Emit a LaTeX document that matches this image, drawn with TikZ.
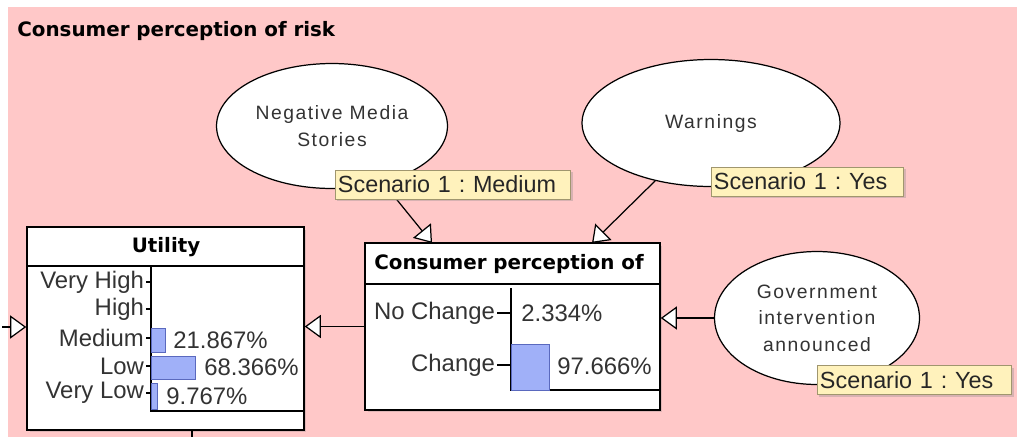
\documentclass[tikz,border=0pt]{standalone}
\usepackage{fontspec}
\setmainfont{Liberation Sans}
\newfontfamily\headfont{DejaVu Sans}
\newfontfamily\ellfont{Liberation Sans}[LetterSpace=8]
\usetikzlibrary{arrows.meta,shapes.geometric,shadows}

\definecolor{bgpink}{RGB}{255,200,200}
\definecolor{notefill}{RGB}{255,242,188}
\definecolor{notedraw}{RGB}{160,150,110}
\definecolor{barfill}{RGB}{160,176,248}
\definecolor{bardraw}{RGB}{90,105,190}

\tikzset{
	varnode/.style={draw, ellipse, fill=white, line width=0.7pt, inner sep=0pt, align=center,
		font=\ellfont\fontsize{11}{15}\selectfont, text=black!80},
	monitor/.style={draw, rectangle, fill=white, line width=0.9pt, inner sep=0pt,
		drop shadow={shadow xshift=0.05cm, shadow yshift=-0.05cm, opacity=0.25}},
	scen/.style={draw=notedraw, fill=notefill, anchor=west, inner xsep=1.5pt, inner ysep=0pt,
		minimum height=0.58cm, align=left, font=\frenchspacing\fontsize{13.3}{14}\selectfont, text=black!85,
		drop shadow={shadow xshift=0.04cm, shadow yshift=-0.04cm, opacity=0.3}},
	link/.style={line width=0.7pt, -{Triangle[fill=white, length=0.32cm, width=0.46cm]}},
	state/.style={anchor=east, inner sep=1pt, font=\fontsize{13.6}{14}\selectfont, text=black!80},
	pct/.style={anchor=west, inner sep=0pt, font=\fontsize{13.6}{14}\selectfont, text=black!80},
	heading/.style={font=\headfont\bfseries\fontsize{11.3}{13}\selectfont},
	bar/.style={draw=bardraw, fill=barfill, line width=0.5pt}
}

\begin{document}
\begin{tikzpicture}[x=0.02cm, y=-0.02cm]
	\useasboundingbox (0,0) rectangle (1017,437);
	\fill[bgpink] (8,7) rectangle (1017,437);
	\node[heading, anchor=base west, inner sep=0pt] (title) at (17,36) {Consumer perception of risk};

	% chance nodes
	\node[varnode, minimum width=4.62cm, minimum height=2.5cm] (media) at (332,126) {Negative Media\\Stories};
	\node[varnode, minimum width=5.16cm, minimum height=2.54cm] (warn) at (711,123) {Warnings};
	\node[varnode, minimum width=4.1cm, minimum height=2.66cm] (gov) at (817,318) {Government\\intervention\\announced};

	% monitor boxes
	\node[monitor, minimum width=5.54cm, minimum height=4.06cm] (util) at (165.5,328.5) {};
	\node[monitor, minimum width=5.9cm, minimum height=3.34cm] (cons) at (512.5,326.5) {};
	\node[heading] (utilhead) at (166,247) {Utility};
	\node[heading] (conshead) at (509,264) {Consumer perception of};
	\draw[line width=0.9pt] (27,266) -- (304,266);
	\draw[line width=0.9pt] (365,284) -- (660,284);

	% utility chart
	\draw[line width=0.8pt] (151,266) -- (151,411) -- (304,411);
	\foreach \lab/\yy [count=\i] in {Very High/282, High/309, Medium/338, Low/366, Very Low/393}
	{	\node[state] (ulab\i) at (146,\yy) {\lab};
		\draw[line width=0.6pt] (146,\yy) -- (151,\yy);
	}
	\foreach \xx/\ya/\yb/\val/\tx [count=\i] in {165/328/352/21.867/173, 195/356/379/68.366/204, 157/383/409/9.767/166}
	{	\draw[bar] (151,\ya) rectangle (\xx,\yb);
		\node[pct] (uval\i) at (\tx,{(\ya+\yb)/2}) {\val\%};
	}

	% consumer chart
	\draw[line width=0.8pt] (511,288) -- (511,390) -- (660,390);
	\draw[bar] (511,344) rectangle (549,390);
	\foreach \lab/\yy [count=\i] in {No Change/313, Change/365}
	{	\node[state] (clab\i) at (497,\yy) {\lab};
		\draw[line width=0.6pt] (497,\yy) -- (511,\yy);
	}
	\node[pct] (cval1) at (521,313) {2.334\%};
	\node[pct] (cval2) at (557,366) {97.666\%};

	% links
	\coordinate (cin1) at (432,243);
	\coordinate (cin2) at (592,243);
	\coordinate (uin) at (2,327);
	\coordinate (uout) at (192,437);
	\draw[link] (media.-48) -- (cin1);
	\draw[link] (warn.-134) -- (cin2);
	\draw[link] (gov.west) -- (gov.west -| cons.east);
	\draw[link] (cons.west) -- (cons.west -| util.east);
	\draw[link] (uin) -- (uin -| util.west);
	\draw[line width=0.7pt] (uout |- util.south) -- (uout);

	% scenario findings
	\node[scen, text width=4.6cm] (smedia) at (335,184.5) {Scenario 1 : Medium};
	\node[scen, text width=3.74cm] (swarn) at (711,181.5) {Scenario 1 : Yes};
	\node[scen, text width=3.78cm] (sgov) at (817,380) {Scenario 1 : Yes};
\end{tikzpicture}
\end{document}
